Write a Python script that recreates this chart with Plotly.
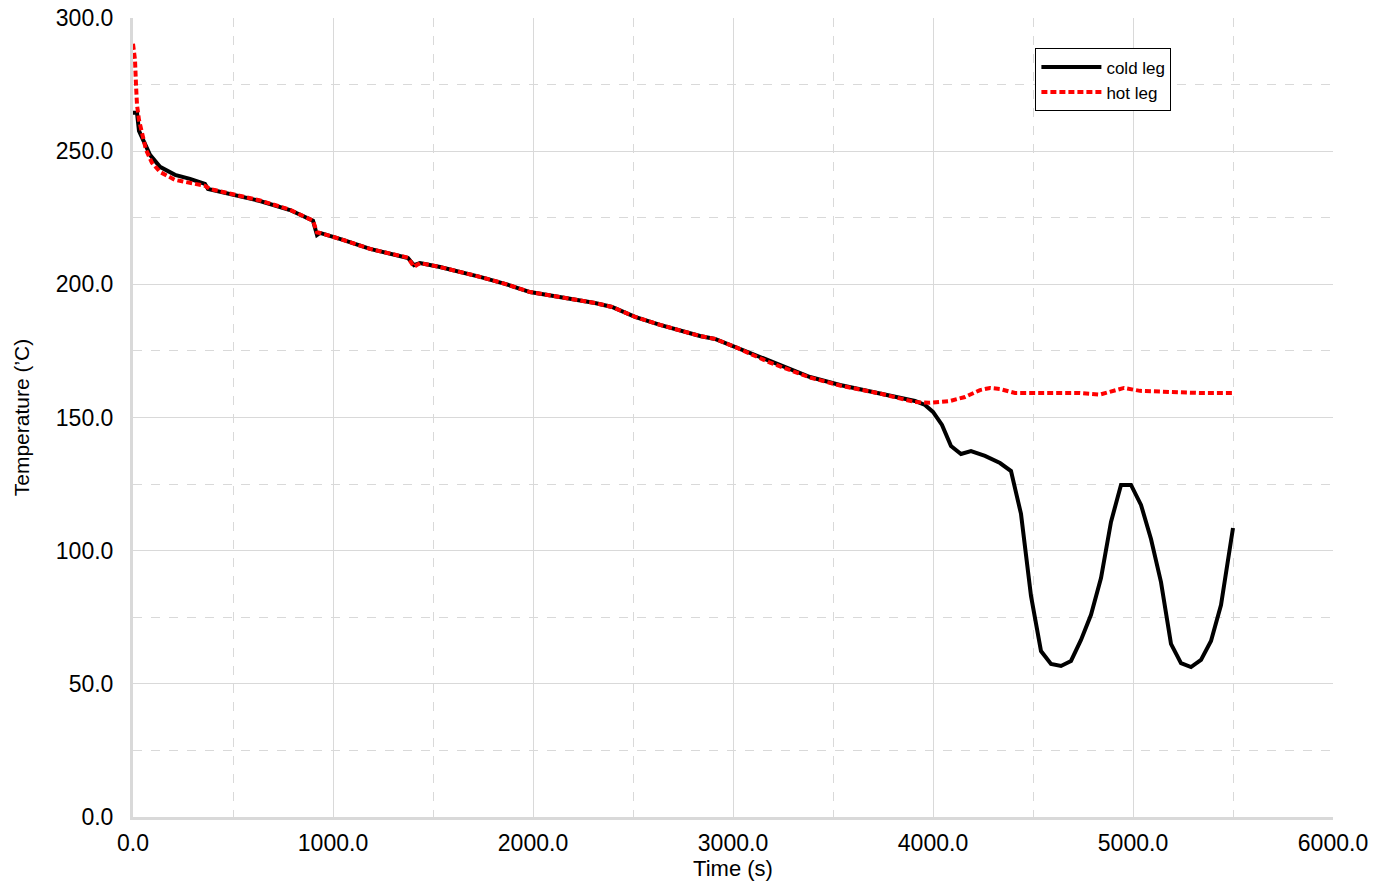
import plotly.graph_objects as go

# Cold leg data (time s, temperature C)
cold_t = [0, 20, 30, 60, 85, 135, 210, 285, 360, 375, 485, 635, 785, 900, 920, 935,
          1050, 1185, 1375, 1405, 1435, 1535, 1735, 1860, 1985, 2135, 2310, 2395, 2510,
          2635, 2835, 2910, 3010, 3185, 3385, 3535, 3735, 3910, 3960, 4000, 4045, 4090,
          4140, 4190, 4260, 4335, 4390, 4440, 4490, 4540, 4590, 4640, 4690, 4740, 4790,
          4840, 4890, 4940, 4990, 5040, 5090, 5140, 5190, 5240, 5290, 5340, 5390, 5440, 5500]
cold_T = [264.4, 264.4, 257.6, 253.1, 248.6, 244.1, 241.1, 239.6, 237.7, 235.8, 233.9,
          231.3, 227.9, 223.9, 218.5, 219.3, 216.7, 213.3, 209.9, 207.2, 208.0, 206.5,
          202.8, 200.2, 197.1, 195.3, 193.0, 191.5, 187.8, 184.8, 180.6, 179.5, 176.5,
          170.9, 165.2, 162.2, 159.2, 156.2, 154.7, 152.1, 147.2, 139.3, 136.3, 137.4,
          135.6, 132.9, 129.9, 113.8, 83.0, 62.3, 57.5, 56.7, 58.6, 66.5, 75.9, 89.7,
          110.8, 124.7, 124.7, 117.2, 104.4, 88.2, 65.0, 57.8, 56.3, 59.0, 66.1, 79.6, 108.5]

# Hot leg data
hot_t = [0, 10, 15, 20, 30, 45, 65, 95, 135, 210, 310, 360, 385, 485, 635, 785, 900,
         920, 935, 1050, 1185, 1375, 1405, 1435, 1535, 1735, 1860, 1985, 2135, 2310,
         2395, 2510, 2635, 2835, 2910, 3010, 3185, 3385, 3535, 3735, 3910, 3985, 4085,
         4160, 4235, 4285, 4335, 4410, 4535, 4735, 4835, 4885, 4955, 5035, 5185, 5335, 5500]
hot_T = [290.3, 284.3, 274.9, 267.4, 261.7, 256.1, 250.5, 245.6, 242.2, 239.2, 237.7,
         237.0, 235.8, 234.0, 231.5, 228.0, 223.9, 219.5, 219.3, 216.7, 213.3, 210.0,
         206.6, 208.0, 206.5, 202.8, 200.2, 197.1, 195.3, 193.0, 191.5, 187.8, 184.8,
         180.6, 179.5, 176.5, 170.6, 165.0, 162.0, 159.0, 155.8, 155.5, 156.2, 157.7,
         160.3, 161.1, 160.7, 159.2, 159.2, 159.2, 158.6, 159.6, 161.1, 160.0, 159.6,
         159.2, 159.2]

x_ticks = [0, 1000, 2000, 3000, 4000, 5000, 6000]
y_ticks = [0, 50, 100, 150, 200, 250, 300]

FONT = "Liberation Sans, Arial, sans-serif"
GRID = "#d9d9d9"

fig = go.Figure()
fig.add_trace(go.Scatter(x=cold_t, y=cold_T, mode="lines", name="cold leg",
                         line=dict(color="black", width=4)))
fig.add_trace(go.Scatter(x=hot_t, y=hot_T, mode="lines", name="hot leg",
                         line=dict(color="#ff0000", width=4, dash="6px,3px")))

axis_common = dict(
    showline=True, linecolor=GRID, linewidth=3,
    showgrid=True, gridcolor=GRID, gridwidth=1,
    zeroline=False, ticks="", automargin=False,
    ticklabeloverflow="allow",
    tickfont=dict(family=FONT, size=23, color="black"),
    tickformat=".1f",
)

fig.update_xaxes(
    range=[0, 6000], tickvals=x_ticks,
    minor=dict(dtick=500, showgrid=True, gridcolor=GRID, griddash="dash", gridwidth=1),
    title=dict(text="Time (s)", font=dict(family=FONT, size=22, color="black"), standoff=3),
    ticklabelstandoff=3,
    **axis_common,
)
fig.update_yaxes(
    range=[0, 300], tickvals=y_ticks,
    minor=dict(dtick=25, showgrid=True, gridcolor=GRID, griddash="dash", gridwidth=1),
    title=dict(text="Temperature (’C)", font=dict(family=FONT, size=21, color="black"), standoff=21),
    ticklabelstandoff=12,
    **axis_common,
)

fig.update_layout(
    width=1390, height=888,
    margin=dict(l=133, r=57, t=18, b=71),
    plot_bgcolor="white", paper_bgcolor="white",
    showlegend=True,
    legend=dict(x=0.752, y=0.962, xanchor="left", yanchor="top",
                bgcolor="white", bordercolor="black", borderwidth=1,
                font=dict(family=FONT, size=17, color="black"),
                tracegroupgap=0, itemwidth=60),
)

fig.write_html("out.html",
               config={"displayModeBar": False},
               post_script="document.body.style.margin='0';document.body.style.overflow='hidden';")
